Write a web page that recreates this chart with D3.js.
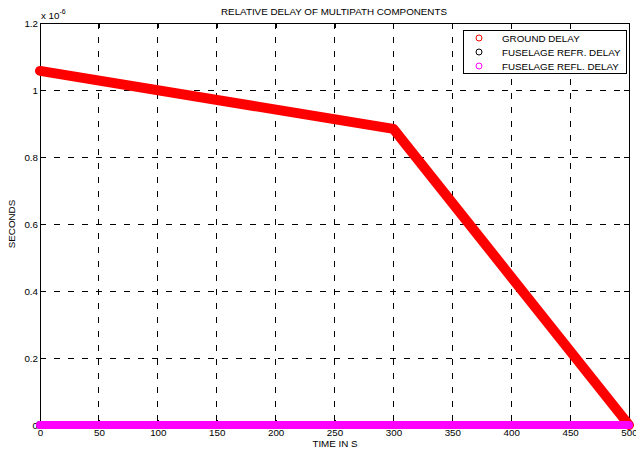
<!DOCTYPE html>
<html>
<head>
<meta charset="utf-8">
<script src="https://cdn.jsdelivr.net/npm/d3@7"></script>
<style>
  body { margin: 0; background: #fff; }
  svg text { font-family: "Liberation Sans", Arial, sans-serif; font-size: 9.8px; fill: #000; }
</style>
</head>
<body>
<svg id="canvas" width="636" height="452"></svg>
<script>
// time (s) and delays (seconds)
let timeS = [0, 300, 500]
let groundDelay = [1.057e-6, 0.884e-6, 0]
let fuselageRefrDelay = [0, 0, 0]
let fuselageReflDelay = [0, 0, 0]

let xTicks = [0, 50, 100, 150, 200, 250, 300, 350, 400, 450, 500]
let yTicks = [0, 0.2, 0.4, 0.6, 0.8, 1, 1.2]

let legendNames = ['GROUND DELAY', 'FUSELAGE REFR. DELAY', 'FUSELAGE REFL. DELAY']
let legendColors = ['#ff0000', '#000000', '#ff00ff']

let canvas = d3.select('#canvas')
let m = { left: 40, right: 629, top: 23, bottom: 425 }

let x = d3.scaleLinear().domain([0, 500]).range([m.left, m.right])
let y = d3.scaleLinear().domain([0, 1.2]).range([m.bottom, m.top])

// grid
canvas.append('g').selectAll('line')
    .data(xTicks.slice(1, -1))
    .enter().append('line')
    .attr('x1', d => x(d)).attr('x2', d => x(d))
    .attr('y1', m.top).attr('y2', m.bottom)
    .attr('stroke', '#000').attr('stroke-width', 1)
    .attr('stroke-dasharray', '6,8')
    .attr('shape-rendering', 'crispEdges')

canvas.append('g').selectAll('line')
    .data(yTicks.slice(1, -1))
    .enter().append('line')
    .attr('x1', m.left).attr('x2', m.right)
    .attr('y1', d => y(d)).attr('y2', d => y(d))
    .attr('stroke', '#000').attr('stroke-width', 1)
    .attr('stroke-dasharray', '6,8')
    .attr('shape-rendering', 'crispEdges')

// axes
let xAxis = d3.axisBottom(x).tickValues(xTicks).tickSize(-5).tickPadding(4).tickFormat(d3.format('d'))
let yAxis = d3.axisLeft(y).tickValues(yTicks).tickSize(-5).tickPadding(2).tickFormat(d => d)

let gx = canvas.append('g').attr('transform', `translate(0,${m.bottom})`).call(xAxis)
let gy = canvas.append('g').attr('transform', `translate(${m.left},0)`).call(yAxis)
let gx2 = canvas.append('g').attr('transform', `translate(0,${m.top})`).call(d3.axisTop(x).tickValues(xTicks).tickSize(-5).tickFormat(''))
let gy2 = canvas.append('g').attr('transform', `translate(${m.right},0)`).call(d3.axisRight(y).tickValues(yTicks).tickSize(-5).tickFormat(''))

;[gx, gy, gx2, gy2].forEach(g => {
    g.select('.domain').attr('stroke', '#000').attr('shape-rendering', 'crispEdges')
    g.selectAll('.tick line').attr('stroke', '#000').attr('shape-rendering', 'crispEdges')
    g.selectAll('text').attr('font-size', 9.5).attr('font-family', '"Liberation Sans", Arial, sans-serif').attr('fill', '#000')
})
gy.selectAll('text').attr('dy', '0.32em')

// data lines
let line = d3.line().x((d, i) => x(timeS[i])).y(d => y(d * 1e6))

canvas.append('path')
    .attr('d', line(fuselageRefrDelay))
    .attr('fill', 'none').attr('stroke', legendColors[1])
    .attr('stroke-width', 8).attr('stroke-linecap', 'round')

canvas.append('path')
    .attr('d', line(groundDelay))
    .attr('fill', 'none').attr('stroke', legendColors[0])
    .attr('stroke-width', 10).attr('stroke-linecap', 'round').attr('stroke-linejoin', 'round')

canvas.append('path')
    .attr('d', line(fuselageReflDelay))
    .attr('fill', 'none').attr('stroke', legendColors[2])
    .attr('stroke-width', 8).attr('stroke-linecap', 'round')

// titles
canvas.append('text').attr('x', 334).attr('y', 15).attr('text-anchor', 'middle')
    .text('RELATIVE DELAY OF MULTIPATH COMPONENTS')
canvas.append('text').attr('x', 335).attr('y', 447).attr('text-anchor', 'middle')
    .text('TIME IN S')
canvas.append('text').attr('transform', 'translate(15,224) rotate(-90)').attr('text-anchor', 'middle')
    .text('SECONDS')

let exp = canvas.append('text').attr('x', 41).attr('y', 19)
exp.append('tspan').text('x 10')
exp.append('tspan').attr('dy', -5).attr('font-size', 7).text('-6')

// legend
let lg = canvas.append('g').attr('transform', 'translate(463,30)')
lg.append('rect').attr('x', 0).attr('y', 0).attr('width', 163).attr('height', 43)
    .attr('fill', '#fff').attr('stroke', '#000').attr('shape-rendering', 'crispEdges')
legendNames.forEach((name, i) => {
    lg.append('circle').attr('cx', 16).attr('cy', 8 + i * 14).attr('r', 3)
        .attr('fill', 'none').attr('stroke', legendColors[i]).attr('stroke-width', 1)
    lg.append('text').attr('x', 39).attr('y', 11.5 + i * 14).text(name)
})
</script>
</body>
</html>
